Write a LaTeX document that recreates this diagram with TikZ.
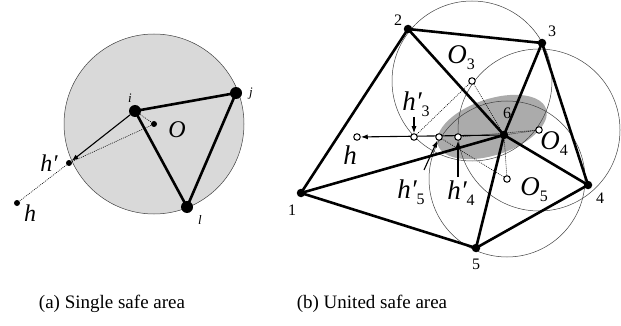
\documentclass[tikz,border=0pt]{standalone}
\usepackage{fontspec}
\setmainfont{Liberation Serif}
\usetikzlibrary{arrows.meta,backgrounds}
\newcommand\lowidx[1]{\raisebox{-0.22em}{\fontsize{16}{16}\selectfont\upshape #1}}

\begin{document}
\begin{tikzpicture}[
    x=1pt, y=-1pt,
    bigdot/.style={circle, fill, inner sep=0pt, minimum size=12pt},
    smalldot/.style={circle, fill, inner sep=0pt, minimum size=6pt},
    vtx/.style={circle, fill, inner sep=0pt, minimum size=8.5pt},
    hollow/.style={circle, draw, fill=white, line width=1pt, inner sep=0pt, minimum size=6.5pt},
    edge/.style={line width=2.6pt},
    dotline/.style={line width=0.6pt, dash pattern=on 0.9pt off 1.1pt},
    safe/.style={draw=black!75, line width=0.5pt},
    ptr/.style={line width=1.1pt, -{Latex[length=7pt,width=5pt]}},
    biga/.style={font=\fontsize{24}{24}\selectfont\itshape, inner sep=0pt},
    bigb/.style={font=\fontsize{27}{27}\selectfont\itshape, inner sep=0pt},
    idx/.style={font=\fontsize{13}{13}\selectfont\itshape, inner sep=0pt},
    num/.style={font=\fontsize{16}{16}\selectfont, inner sep=0pt},
    captext/.style={font=\fontsize{19}{19}\selectfont, inner sep=0pt}
]
    \useasboundingbox (0,0) rectangle (621,326);

    % (a) single safe area
    \node[smalldot] (O) at (154,124) {};
    \node[bigdot] (i) at (135,111) {};
    \node[bigdot] (j) at (236,93) {};
    \node[bigdot] (l) at (187,207) {};
    \node[smalldot] (hp) at (69,163) {};
    \node[smalldot] (h) at (17,203) {};

    \node[idx] (li) at (130,98) {i};
    \node[idx] (lj) at (251,94) {j};
    \node[idx] (ll) at (200,220) {l};
    \node[biga] (lO) at (177,130) {O};
    \node[biga] (lhp) at (49,163) {h′};
    \node[biga] (lh) at (30,213) {h};

    % (b) united safe area
    \node[vtx] (v1) at (301,193) {};
    \node[vtx] (v2) at (408,29) {};
    \node[vtx] (v3) at (542,43) {};
    \node[vtx] (v4) at (588,185) {};
    \node[vtx] (v5) at (476,248) {};
    \node[vtx] (v6) at (504,135) {};

    \node[hollow] (O3) at (472,81) {};
    \node[hollow] (O4) at (539,130) {};
    \node[hollow] (O5) at (507,179) {};
    \node[hollow] (hb) at (357,137) {};
    \node[hollow] (hp3) at (414,137) {};
    \node[hollow] (hp5) at (439,137) {};
    \node[hollow] (hp4) at (458,137) {};

    \coordinate (t3) at (414,117);
    \coordinate (t5) at (424,170);
    \coordinate (t4) at (458,177);

    \node[num] (l1) at (292,210) {1};
    \node[num] (l2) at (398,20) {2};
    \node[num] (l3) at (552,31) {3};
    \node[num] (l4) at (600,198) {4};
    \node[num] (l5) at (476,264) {5};
    \node[num] (l6) at (507,113) {6};

    \node[bigb] (lO3) at (461,58) {O\lowidx{3}};
    \node[bigb] (lO4) at (554,144) {O\lowidx{4}};
    \node[bigb] (lO5) at (534,190) {O\lowidx{5}};
    \node[bigb] (lhb) at (350,155) {h};
    \node[bigb] (lhp3) at (416,104) {h′\lowidx{3}};
    \node[bigb] (lhp5) at (411,192) {h′\lowidx{5}};
    \node[bigb] (lhp4) at (461,193) {h′\lowidx{4}};

    % captions
    \node[captext] (capa) at (112,304) {(a) Single safe area};
    \node[captext] (capb) at (372,304) {(b) United safe area};

    \begin{scope}[on background layer]
        \draw[safe, fill=black!15] (O.center) circle[radius=90];
        \draw[edge] (i.center) -- (j.center) -- (l.center) -- cycle;
        \draw[ptr] (i) -- (hp);
        \draw[dotline] (i) -- (O);
        \draw[dotline] (O) -- (hp);
        \draw[dotline] (hp) -- (h);

        \fill[black!33, rotate around={18.6:(492,127)}] (492,127) ellipse[x radius=57, y radius=28];
        \draw[safe] (O3.center) circle[radius=80];
        \draw[safe] (O4.center) circle[radius=81];
        \draw[safe] (O5.center) circle[radius=78];

        \foreach \a/\b in {v1/v2, v2/v3, v3/v4, v4/v5, v5/v1, v6/v1, v6/v2, v6/v3, v6/v4, v6/v5}
            \draw[edge] (\a.center) -- (\b.center);

        \draw[ptr] (v6) -- (hb);
        \draw[dotline] (O3) -- (hp3);
        \draw[dotline] (O3) -- (v6);
        \draw[dotline] (O4) -- (v6);
        \draw[dotline] (O4) -- (hp4);
        \draw[dotline] (O5) -- (v6);
        \draw[dotline] (O5) -- (hp5);

        \draw[ptr] (t3) -- (hp3);
        \draw[ptr] (t5) -- (hp5);
        \draw[ptr] (t4) -- (hp4);
    \end{scope}
\end{tikzpicture}
\end{document}
